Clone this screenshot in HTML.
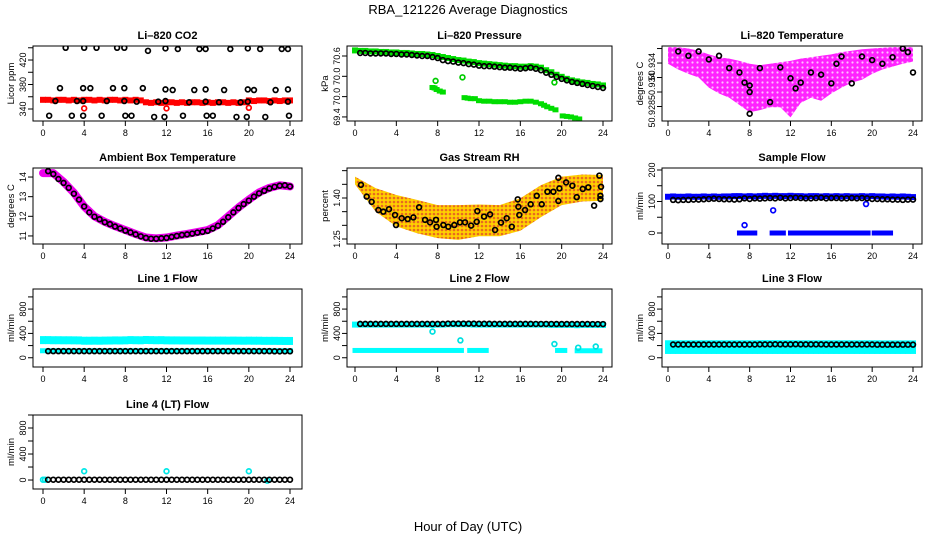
<!DOCTYPE html>
<html><head><meta charset="utf-8"><style>
html,body{margin:0;padding:0;background:#fff}
svg{display:block;font-family:"Liberation Sans",Arial,sans-serif}
</style></head><body>
<svg id="chart" width="936" height="540" viewBox="0 0 936 540" xmlns="http://www.w3.org/2000/svg">
<defs>
<pattern id="magPat" width="5" height="5" patternUnits="userSpaceOnUse"><rect width="5" height="5" fill="#ff22ff"/><circle cx="2.5" cy="2.5" r="1.1" fill="#ffc0ff"/></pattern>
<pattern id="rhPat" width="4" height="4" patternUnits="userSpaceOnUse"><rect width="4" height="4" fill="#ffd000"/><circle cx="2" cy="2" r="1.3" fill="#e86a20"/></pattern>
</defs>
<text x="468" y="14" font-size="13" text-anchor="middle">RBA_121226  Average Diagnostics</text>
<text x="468" y="531" font-size="13" text-anchor="middle">Hour of Day (UTC)</text>
</svg>
<script>
// ---------- data ----------
const xTicks = [0,4,8,12,16,20,24];
// CO2
const co2Red = [355,355,354,355,355,354,355,354,355,355,354,355,354,355,355,354,355,354,355,354,351,350,351,350,351,351,350,351,350,351,351,350,351,350,351,351,350,351,350,351,354,353,354,354,353,354,353,354,354];
const co2RedOutH = [4,12,20];
const co2RedOutV = [341,341,342];
const co2BlkH = [2.2,4.0,5.2,7.2,7.9,10.2,11.9,13.1,15.2,15.8,18.2,19.9,21.1,23.2,23.8, 1.65,3.9,4.6,6.8,7.9,9.7,11.9,12.6,14.7,15.8,17.6,19.9,20.5,22.6,23.8, 1.2,3.3,3.9,6.2,7.9,9.1,11.2,11.9,14.2,15.8,17.1,19.2,19.9,22.1,23.8, 0.6,2.8,3.9,5.7,8.0,8.6,10.8,11.8,13.6,15.9,16.5,18.8,19.8,21.6,23.9];
const co2BlkV = [440,440,440,440,440,435,439,438,438,438,438,439,438,438,438, 374,374,374,374,374,374,372,371,371,372,371,372,371,371,372, 353,353,353,353,353,352,352,353,351,352,351,351,352,351,352, 329,329,329,329,329,329,327,327,329,329,329,327,327,327,329];
// Pressure
const presBlk = [70.66,70.66,70.65,70.65,70.65,70.65,70.64,70.64,70.63,70.63,70.62,70.61,70.60,70.60,70.58,70.56,70.52,70.50,70.49,70.47,70.46,70.44,70.43,70.41,70.40,70.40,70.39,70.38,70.37,70.37,70.36,70.35,70.36,70.37,70.35,70.32,70.27,70.23,70.19,70.15,70.12,70.09,70.07,70.05,70.03,70.01,69.99,69.97];
const presGreen = [70.71,70.70,70.70,70.69,70.69,70.68,70.68,70.67,70.67,70.66,70.66,70.65,70.64,70.64,70.63,70.62,70.60,70.58,70.56,70.54,70.52,70.51,70.49,70.48,70.46,70.45,70.44,70.43,70.42,70.41,70.40,70.40,70.39,70.39,70.40,70.39,70.37,70.32,70.28,70.23,70.19,70.15,70.12,70.10,70.08,70.07,70.05,70.04,70.02];
const presLowH = [7.5,7.7,7.9,8.2,8.5,10.6,10.9,11.2,11.6,12.0,12.5,13,13.5,14,14.5,15,15.5,16,16.5,17,17.5,18,18.3,18.6,19.0,19.4,20.1,20.5,20.9,21.3,21.7];
const presLowV = [69.98,69.97,69.94,69.91,69.89,69.78,69.77,69.76,69.76,69.72,69.71,69.71,69.70,69.70,69.70,69.69,69.69,69.70,69.71,69.71,69.69,69.66,69.63,69.60,69.57,69.54,69.42,69.41,69.40,69.38,69.36];
const presOutH = [7.8,10.4,19.3];
const presOutV = [70.11,70.18,70.08];
// Li-820 temperature
const tempUpper = [50.9382,50.9382,50.9380,50.9377,50.9372,50.9368,50.9366,50.9363,50.9359,50.9357,50.9359,50.9361,50.9363,50.9366,50.9368,50.9370,50.9372,50.9375,50.9377,50.9379,50.9380,50.9381,50.9382,50.9382,50.9382];
const tempLower = [50.9359,50.9351,50.9345,50.9340,50.9326,50.9318,50.9312,50.9302,50.9292,50.9295,50.9299,50.9299,50.9285,50.9305,50.9312,50.9308,50.9318,50.9326,50.9333,50.9337,50.9345,50.9351,50.9355,50.9359,50.9362];
const tempBlkH = [1,2,3,4,5,6,7,7.5,8,8,8,9,10,11,12,12.5,13,14,15,16,16.5,17,18,19,20,21,22,23,23.5,24];
const tempBlkV = [50.9376,50.9370,50.9376,50.9365,50.9370,50.9353,50.9347,50.9333,50.9329,50.9320,50.9290,50.9353,50.9306,50.9354,50.9339,50.9325,50.9333,50.9347,50.9344,50.9332,50.9359,50.9369,50.9332,50.9369,50.9364,50.9359,50.9368,50.9380,50.9375,50.9347];
const tempLabelVals = [50.9355, 50.9328, 50.9290];
const tempLabelText = ['50.934', '50.934', '50.928'];
// Ambient box temperature
const ambMag = [14.2,14.2,13.75,13.2,12.5,12.0,11.72,11.5,11.3,11.1,10.92,10.88,10.92,11.02,11.1,11.2,11.3,11.55,12.0,12.45,12.85,13.22,13.45,13.58,13.52];
const ambBlk = [14.3,14.15,13.9,13.7,13.45,13.15,12.85,12.5,12.2,11.98,11.85,11.7,11.6,11.48,11.38,11.27,11.18,11.08,10.98,10.9,10.86,10.86,10.88,10.9,10.95,11.0,11.05,11.08,11.12,11.17,11.21,11.26,11.38,11.52,11.72,11.95,12.2,12.42,12.62,12.8,13.0,13.17,13.3,13.42,13.5,13.56,13.58,13.52];
// Gas stream RH
const rhUpper = [1.478,1.436,1.411,1.393,1.374,1.374,1.376,1.374,1.399,1.447,1.478,1.486,1.484];
const rhLower = [1.450,1.350,1.296,1.271,1.253,1.247,1.260,1.260,1.280,1.330,1.374,1.387,1.390];
const rhBlkH = [0.58,1.13,1.61,2.26,2.74,3.29,3.87,3.97,4.52,5.1,5.65,6.2,6.78,7.26,7.84,7.9,8.55,9.03,9.61,10.16,10.65,11.23,11.78,11.84,12.49,13.07,13.55,14.13,14.68,15.17,15.75,15.81,15.9,16.46,17.0,17.59,18.07,18.62,19.2,19.68,19.78,19.68,20.43,21.04,21.46,22.04,22.58,23.14,23.65,23.81,23.75,23.75];
const rhBlkV = [1.448,1.405,1.386,1.356,1.350,1.359,1.338,1.301,1.326,1.323,1.329,1.366,1.320,1.311,1.320,1.295,1.301,1.295,1.301,1.311,1.311,1.299,1.313,1.352,1.332,1.340,1.283,1.310,1.326,1.295,1.395,1.368,1.338,1.356,1.377,1.408,1.377,1.423,1.423,1.474,1.435,1.389,1.457,1.445,1.403,1.433,1.439,1.372,1.482,1.441,1.396,1.408];
// Sample flow
const sfBlue = [115,116,115,115,116,115,115,116,115,116,115,116,116,117,117,116,117,116,117,118,117,118,117,117,118,117,117,116,117,117,116,117,116,117,116,117,116,116,117,116,117,116,116,115,116,115,116,115,114];
const sfBlk = [105,104,105,105,106,106,107,108,109,108,107,107,106,107,110,108,110,109,110,111,110,112,110,111,112,111,110,110,111,112,110,111,111,110,110,111,110,111,110,108,108,107,107,106,106,105,106,106];
const sfZeroStart = [7.0,10.2,12.0,20.2];
const sfZeroEnd = [8.5,11.3,19.6,21.8];
const sfOutH = [7.5,10.3,19.4];
const sfOutV = [25,72,92];
// Line 1
const l1CyanHi = [290,290,288,288,287,287,286,285,280,280,281,280,282,283,285,284,286,290,288,287,292,290,288,289,286,285,285,284,284,283,283,283,282,282,282,282,281,282,281,280,281,280,280,278,278,278,277,276,276];
const l1CyanLo = [115,115,115,115,115,115,115,115,115,115,115,115,115,115,115,115,115,115,115,115,115,115,115,115,115,115,115,115,115,115,115,115,115,115,115,115,115,115,115,115,115,115,115,115,115,115,115,115,115];
const l1Blk = [108,108,108,108,108,108,108,108,108,108,108,108,108,108,108,108,108,108,108,108,108,108,108,108,108,108,108,108,108,108,108,108,108,108,108,108,108,108,108,108,108,108,108,108,106,105,106,106];
// Line 2
const l2Blk = [556,556,556,556,556,556,556,556,556,556,556,556,556,556,556,556,556,560,560,560,560,560,560,558,558,558,557,557,556,556,556,556,556,556,555,555,555,555,554,554,554,554,554,554,554,553,553,553];
const l2Cyan = [545,545,545,545,545,545,545,545,545,545,545,545,545,545,545,540,545,545,550,550,550,550,550,545,545,545,545,545,545,545,545,545,545,545,545,545,545,545,540,540,540,540,540,535,540,540,540,540,540];
const l2LoStart = [0,11.1,19.6,21.5];
const l2LoEnd = [10.3,12.7,20.3,23.7];
const l2LoV = [120,120,120,115];
const l2OutH = [7.5,10.2,19.3,21.6,23.3];
const l2OutV = [430,285,225,165,185];
// Line 3
const l3CyanHi = [230,230,230,230,230,230,230,230,230,230,230,230,230,230,230,230,230,230,232,232,232,232,232,232,232,230,230,230,230,230,230,230,230,230,230,230,230,230,230,230,230,230,228,228,228,228,228,228,228];
const l3CyanLo = [120,120,120,120,120,120,120,120,120,120,120,120,120,120,120,120,120,120,120,120,120,120,120,120,120,120,120,120,120,120,120,120,120,120,120,120,120,120,120,120,120,120,120,120,120,120,120,120,120];
const l3Blk = [218,218,218,218,218,218,218,218,218,218,218,218,218,218,218,218,218,220,220,220,222,220,220,220,222,220,220,220,220,220,218,218,218,218,218,218,218,218,218,218,215,215,215,215,215,215,215,215];
// Line 4
const l4Blk = [5,5,5,5,5,5,5,5,5,5,5,5,5,5,5,5,5,5,5,5,5,5,5,5,5,5,5,5,5,5,5,5,5,5,5,5,5,5,5,5,5,5,5,5,5,5,5,5];
const l4CyanH = [0,0.2,4,12,20,21.8];
const l4CyanV = [5,5,135,135,135,-10];

// ---------- helpers ----------
const NS = "http://www.w3.org/2000/svg";
const svg = document.getElementById('chart');
const halfH = []; for (let i = 0; i <= 48; i++) halfH.push(i / 2);
const halfH1 = halfH.slice(1);
function mk(tag, attrs, parent) {
  const e = document.createElementNS(NS, tag);
  for (const k in attrs) e.setAttribute(k, attrs[k]);
  parent.appendChild(e); return e;
}
let clipN = 0;
function panel(o) {
  const g = mk('g', {}, svg);
  
  
  const sx = h => o.hx0 + h / 24 * (o.hx1 - o.hx0);
  const sy = v => o.by1 - (v - o.ymin) / (o.ymax - o.ymin) * (o.by1 - o.by0);
  const cid = 'clip' + (clipN++);
  const cp = mk('clipPath', { id: cid }, g);
  mk('rect', { x: o.bx0, y: o.by0, width: o.bx1 - o.bx0, height: o.by1 - o.by0 }, cp);
  const marks = mk('g', { 'clip-path': 'url(#' + cid + ')' }, g);
  
  
  const box = mk('rect', { x: o.bx0, y: o.by0, width: o.bx1 - o.bx0, height: o.by1 - o.by0, fill: 'none', stroke: '#000', 'stroke-width': 1 }, g);
  
  
  const t = mk('text', { x: (o.bx0 + o.bx1) / 2, y: o.by0 - 7, 'font-size': 11, 'font-weight': 'bold', 'text-anchor': 'middle' }, g);
  t.textContent = o.title;
  
  
  const xa = mk('g', { stroke: '#000', 'stroke-width': 1 }, g);
  
  
  xTicks.forEach(h => {
    mk('line', { x1: sx(h), x2: sx(h), y1: o.by1, y2: o.by1 + 5 }, xa);
    const lt = mk('text', { x: sx(h), y: o.by1 + 15, 'font-size': 9, 'text-anchor': 'middle', stroke: 'none' }, xa);
    lt.textContent = h;
    
    
  });
  const ya = mk('g', { stroke: '#000', 'stroke-width': 1 }, g);
  
  
  const lv = o.labelVals || o.yticks;
  o.yticks.forEach(v => mk('line', { x1: o.bx0 - 5, x2: o.bx0, y1: sy(v), y2: sy(v) }, ya));
  lv.forEach((v, i) => {
    const lab = o.ylabels[i];
    if (lab) {
      const y = sy(v), x = o.bx0 - 7;
      const lt = mk('text', { x: x, y: y, 'font-size': 9, 'text-anchor': 'middle', stroke: 'none', transform: 'rotate(-90 ' + x + ' ' + y + ')' }, ya);
      lt.textContent = lab;
      
      
    }
  });
  const yc = (o.by0 + o.by1) / 2, yx = o.bx0 - 19;
  const yl = mk('text', { x: yx, y: yc, 'font-size': 9.5, 'text-anchor': 'middle', transform: 'rotate(-90 ' + yx + ' ' + yc + ')' }, g);
  yl.textContent = o.ylab;
  
  
  return { g: marks, sx, sy };
}
function circles(p, xs, ys, color, name, r, sw) {
  const gg = mk('g', { fill: 'none', stroke: color, 'stroke-width': sw || 1.7 }, p.g);
  
  
  xs.forEach((h, i) => {
    const c = mk('circle', { cx: p.sx(h), cy: p.sy(ys[i]), r: r || 2.4 }, gg);
    
    
  });
}
function blocks(p, xs, ys, color, name, w, hgt) {
  const gg = mk('g', { fill: color }, p.g);
  
  
  xs.forEach((h, i) => {
    const r = mk('rect', { x: p.sx(h) - w / 2, y: p.sy(ys[i]) - hgt / 2, width: w, height: hgt }, gg);
    
    
  });
}
function runs(p, starts, ends, vals, color, name, hgt) {
  const gg = mk('g', { fill: color }, p.g);
  
  
  starts.forEach((s, i) => {
    const v = Array.isArray(vals) ? vals[i] : vals;
    const r = mk('rect', { x: p.sx(s) - 2.5, y: p.sy(v) - hgt / 2, width: p.sx(ends[i]) - p.sx(s) + 5, height: hgt }, gg);
    
    
  });
}
function envelope(p, hours, up, lo, fill, name) {
  let d = '';
  hours.forEach((h, i) => d += (i ? 'L' : 'M') + p.sx(h) + ',' + p.sy(up[i]));
  for (let i = hours.length - 1; i >= 0; i--) d += 'L' + p.sx(hours[i]) + ',' + p.sy(lo[i]);
  const path = mk('path', { d: d + 'Z', fill: fill, stroke: 'none' }, p.g);
  
  
}
const C1 = { bx0: 33, bx1: 302, hx0: 43, hx1: 290 };
const C2 = { bx0: 347, bx1: 612, hx0: 355, hx1: 603 };
const C3 = { bx0: 662, bx1: 922, hx0: 668, hx1: 913 };
const R1 = { by0: 46, by1: 121 }, R2 = { by0: 168, by1: 244 }, R3 = { by0: 289, by1: 367 }, R4 = { by0: 415, by1: 489 };
const flowTicks = [0, 200, 400, 600, 800, 1000], flowLabels = ['0', '', '400', '', '800', ''];

let p = panel(Object.assign({ name: 'panel-co2', title: 'Li\u2013820 CO2', ylab: 'Licor ppm', ymin: 320.4, ymax: 442.9, yticks: [340, 360, 380, 400, 420, 440], ylabels: ['340', '', '380', '', '420', ''] }, C1, R1));
blocks(p, halfH, co2Red, '#ff0000', 'series-co2-red', 6, 6);
circles(p, co2RedOutH, co2RedOutV, '#ff0000', 'series-co2-red-outliers');
circles(p, co2BlkH, co2BlkV, '#000', 'series-co2-black');

p = panel(Object.assign({ name: 'panel-pressure', title: 'Li\u2013820 Pressure', ylab: 'kPa', ymin: 69.32, ymax: 70.797, yticks: [69.4, 69.8, 70.2, 70.6], ylabels: ['69.4', '70.0', '70.0', '70.6'] }, C2, R1));
blocks(p, halfH, presGreen, '#00dd00', 'series-pressure-green', 6, 6);
blocks(p, presLowH, presLowV, '#00dd00', 'series-pressure-green-low', 6, 5);
circles(p, presOutH, presOutV, '#00cc00', 'series-pressure-green-outliers');
circles(p, halfH1, presBlk, '#000', 'series-pressure-black');

p = panel(Object.assign({ name: 'panel-li820-temp', title: 'Li\u2013820 Temperature', ylab: 'degrees C', ymin: 50.9280, ymax: 50.93835, yticks: [50.938, 50.936, 50.934, 50.932, 50.930], labelVals: tempLabelVals, ylabels: tempLabelText }, C3, R1));
envelope(p, halfH.filter((h, i) => i % 2 === 0), tempUpper, tempLower, 'url(#magPat)', 'series-temp-magenta');
circles(p, tempBlkH, tempBlkV, '#000', 'series-temp-black');

p = panel(Object.assign({ name: 'panel-ambient-temp', title: 'Ambient Box Temperature', ylab: 'degrees C', ymin: 10.59, ymax: 14.46, yticks: [11, 12, 13, 14], ylabels: ['11', '12', '13', '14'] }, C1, R2));
(function () {
  let d = '';
  ambMag.forEach((v, i) => d += (i ? 'L' : 'M') + p.sx(i) + ',' + p.sy(v));
  const pl = mk('path', { d: d, fill: 'none', stroke: '#ee00ee', 'stroke-width': 8, 'stroke-linejoin': 'round', 'stroke-linecap': 'round' }, p.g);
  
  
})();
circles(p, halfH1, ambBlk, '#000', 'series-ambient-black');

p = panel(Object.assign({ name: 'panel-rh', title: 'Gas Stream RH', ylab: 'percent', ymin: 1.2317, ymax: 1.5097, yticks: [1.25, 1.30, 1.35, 1.40, 1.45, 1.50], ylabels: ['1.25', '', '', '1.40', '', ''] }, C2, R2));
envelope(p, halfH.filter((h, i) => i % 4 === 0), rhUpper, rhLower, 'url(#rhPat)', 'series-rh-orange');
circles(p, rhBlkH, rhBlkV, '#000', 'series-rh-black');

p = panel(Object.assign({ name: 'panel-sample-flow', title: 'Sample Flow', ylab: 'ml/min', ymin: -34.9, ymax: 206.3, yticks: [0, 50, 100, 150, 200], ylabels: ['0', '', '100', '', '200'] }, C3, R2));
blocks(p, halfH, sfBlue, '#0000ff', 'series-sample-blue', 6, 6);
runs(p, sfZeroStart, sfZeroEnd, 0, '#0000ff', 'series-sample-blue-zero', 5);
circles(p, sfOutH, sfOutV, '#0000ff', 'series-sample-blue-outliers');
circles(p, halfH1, sfBlk, '#000', 'series-sample-black');

p = panel(Object.assign({ name: 'panel-line1-flow', title: 'Line 1 Flow', ylab: 'ml/min', ymin: -152, ymax: 1130, yticks: flowTicks, ylabels: flowLabels }, C1, R3));
blocks(p, halfH, l1CyanHi, '#00ffff', 'series-line1-cyan-high', 6, 8);
blocks(p, halfH, l1CyanLo, '#00ffff', 'series-line1-cyan-low', 6, 5);
circles(p, halfH1, l1Blk, '#000', 'series-line1-black');

p = panel(Object.assign({ name: 'panel-line2-flow', title: 'Line 2 Flow', ylab: 'ml/min', ymin: -152, ymax: 1130, yticks: flowTicks, ylabels: flowLabels }, C2, R3));
blocks(p, halfH, l2Cyan, '#00ffff', 'series-line2-cyan-high', 6, 6);
runs(p, l2LoStart, l2LoEnd, l2LoV, '#00ffff', 'series-line2-cyan-low', 5);
circles(p, l2OutH, l2OutV, '#00e0e0', 'series-line2-cyan-outliers');
circles(p, halfH1, l2Blk, '#000', 'series-line2-black');

p = panel(Object.assign({ name: 'panel-line3-flow', title: 'Line 3 Flow', ylab: 'ml/min', ymin: -152, ymax: 1130, yticks: flowTicks, ylabels: flowLabels }, C3, R3));
blocks(p, halfH, l3CyanHi, '#00ffff', 'series-line3-cyan-high', 6, 7);
blocks(p, halfH, l3CyanLo, '#00ffff', 'series-line3-cyan-low', 6, 7);
circles(p, halfH1, l3Blk, '#000', 'series-line3-black');

p = panel(Object.assign({ name: 'panel-line4-flow', title: 'Line 4 (LT) Flow', ylab: 'ml/min', ymin: -138, ymax: 1000, yticks: flowTicks, ylabels: flowLabels }, C1, R4));
circles(p, l4CyanH, l4CyanV, '#00e8e8', 'series-line4-cyan');
circles(p, halfH1, l4Blk, '#000', 'series-line4-black');
</script>
</body></html>
